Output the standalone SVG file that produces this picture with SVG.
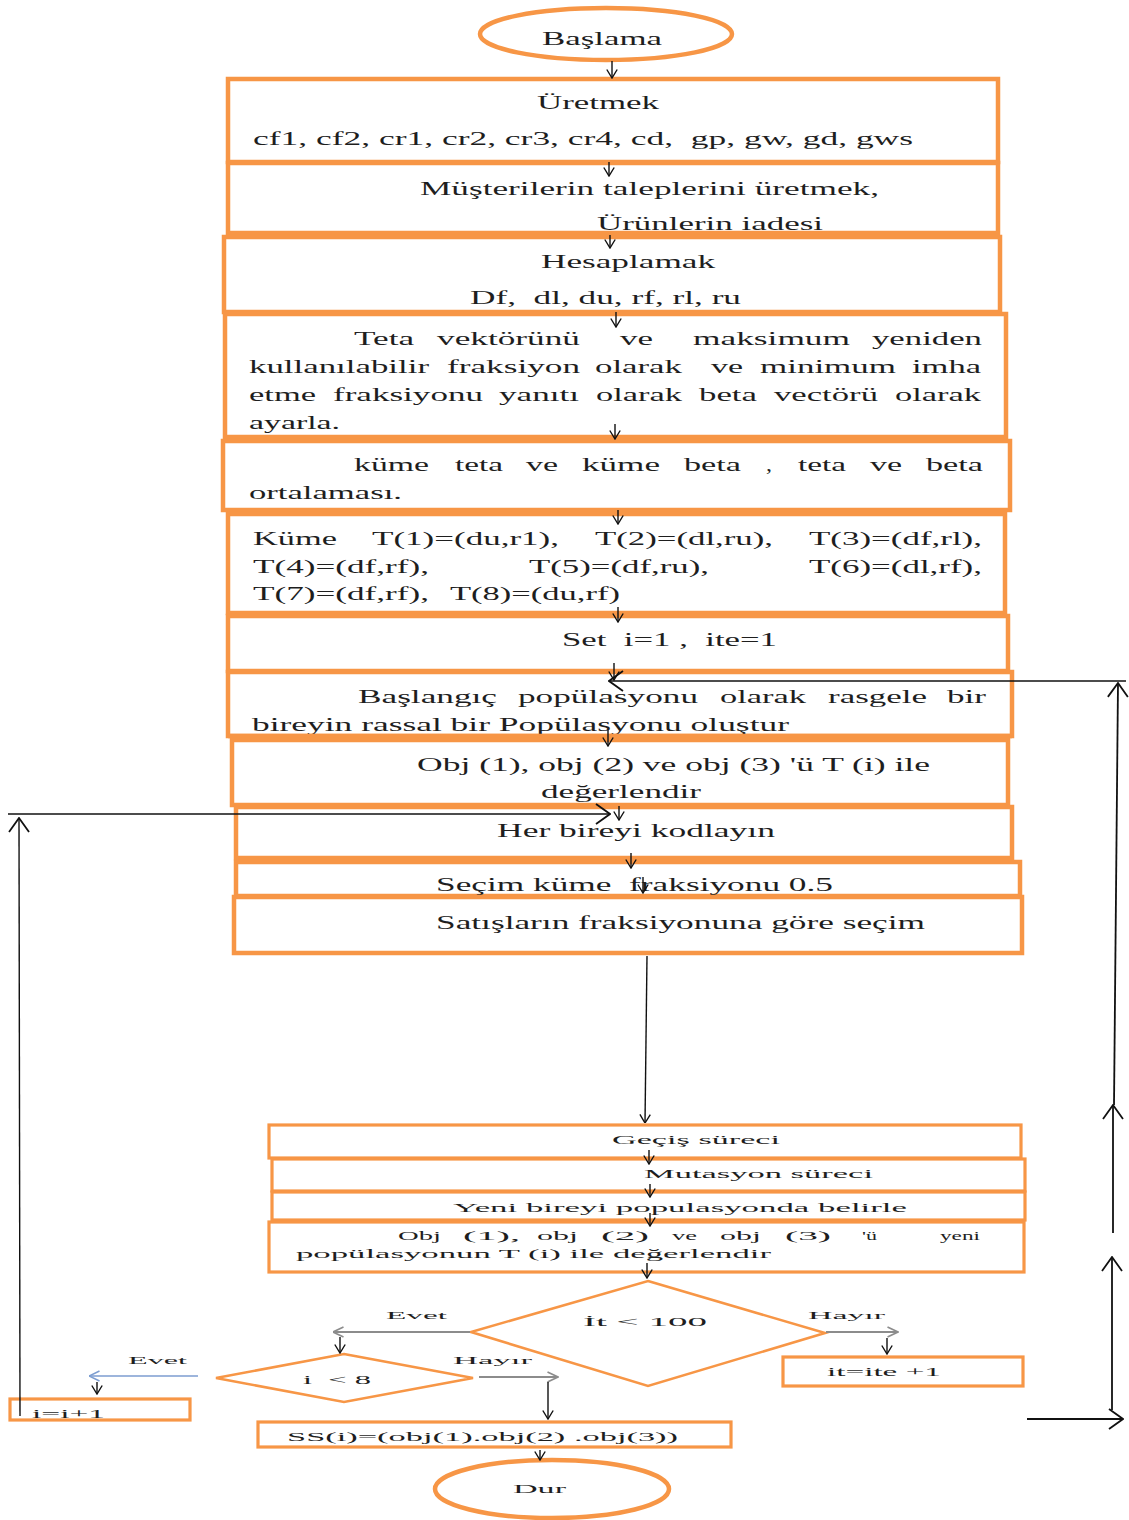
<svg xmlns="http://www.w3.org/2000/svg" width="1129" height="1520" viewBox="0 0 1129 1520">
<defs>
<style>
.box{fill:#fff;stroke:#F79646;stroke-width:4.5}
.sbox{fill:#fff;stroke:#F79646;stroke-width:3.2}
.shape{fill:#fff;stroke:#F79646;stroke-width:2.6}
.t{font-family:"Liberation Serif","Times New Roman",serif;font-size:18px;fill:#1e1e1e}
.s{font-family:"Liberation Serif","Times New Roman",serif;font-size:13px;fill:#1e1e1e}
.l{font-family:"Liberation Serif","Times New Roman",serif;font-size:11px;fill:#1e1e1e}
.c{fill:none;stroke:#111;stroke-width:1.4}
.cg{fill:none;stroke:#8c8c8c;stroke-width:1.8}
.cb{fill:none;stroke:#7c9dd1;stroke-width:1.6}
.cl{fill:none;stroke:#111;stroke-width:1.8}
</style>
<marker id="ah" viewBox="0 0 10 12" refX="9.5" refY="6" markerWidth="10" markerHeight="12" markerUnits="userSpaceOnUse" orient="auto"><path d="M1,0.8 L9.5,6 L1,11.2" fill="none" stroke="#111" stroke-width="1.4"/></marker>
<marker id="ahg" viewBox="0 0 12 12" refX="11.5" refY="6" markerWidth="12" markerHeight="12" markerUnits="userSpaceOnUse" orient="auto"><path d="M1,1 L11.5,6 L1,11" fill="none" stroke="#8c8c8c" stroke-width="1.6"/></marker>
<marker id="ahbl" viewBox="0 0 12 12" refX="11.5" refY="6" markerWidth="12" markerHeight="12" markerUnits="userSpaceOnUse" orient="auto"><path d="M1,1 L11.5,6 L1,11" fill="none" stroke="#7c9dd1" stroke-width="1.5"/></marker>
<marker id="ahb" viewBox="0 0 16 22" refX="15" refY="11" markerWidth="16" markerHeight="22" markerUnits="userSpaceOnUse" orient="auto"><path d="M1,1 L15,11 L1,21" fill="none" stroke="#111" stroke-width="1.8"/></marker>
</defs>
<rect width="1129" height="1520" fill="#fff"/>

<g id="n-baslama"><ellipse class="box" cx="606" cy="34" rx="126" ry="26" stroke-width="3.5"/><text class="t" x="542" y="45" textLength="120" lengthAdjust="spacingAndGlyphs">Başlama</text></g>

<g id="n-uretmek"><rect class="box" x="228" y="79" width="770" height="83"/>
<text class="t" x="537" y="109" textLength="122" lengthAdjust="spacingAndGlyphs">Üretmek</text>
<text class="t" x="253" y="145" textLength="660" lengthAdjust="spacingAndGlyphs" xml:space="preserve">cf1, cf2, cr1, cr2, cr3, cr4, cd,  gp, gw, gd, gws</text></g>

<g id="n-musteri"><rect class="box" x="228" y="163" width="770" height="70"/>
<text class="t" x="420" y="195" textLength="459" lengthAdjust="spacingAndGlyphs">Müşterilerin taleplerini üretmek,</text>
<text class="t" x="597" y="230" textLength="226" lengthAdjust="spacingAndGlyphs">Ürünlerin iadesi</text></g>

<g id="n-hesap"><rect class="box" x="224" y="237" width="776" height="75"/>
<text class="t" x="541" y="268" textLength="174" lengthAdjust="spacingAndGlyphs">Hesaplamak</text>
<text class="t" x="470" y="304" textLength="271" lengthAdjust="spacingAndGlyphs" xml:space="preserve">Df,  dl, du, rf, rl, ru</text></g>

<g id="n-teta"><rect class="box" x="225" y="314" width="781" height="123"/>
<text class="t" y="345"><tspan x="354" textLength="60" lengthAdjust="spacingAndGlyphs">Teta</tspan> <tspan x="437" textLength="143" lengthAdjust="spacingAndGlyphs">vektörünü</tspan> <tspan x="620" textLength="33" lengthAdjust="spacingAndGlyphs">ve</tspan> <tspan x="693" textLength="157" lengthAdjust="spacingAndGlyphs">maksimum</tspan> <tspan x="872" textLength="110" lengthAdjust="spacingAndGlyphs">yeniden</tspan></text>
<text class="t" y="373"><tspan x="249" textLength="180" lengthAdjust="spacingAndGlyphs">kullanılabilir</tspan> <tspan x="447" textLength="133" lengthAdjust="spacingAndGlyphs">fraksiyon</tspan> <tspan x="595" textLength="87" lengthAdjust="spacingAndGlyphs">olarak</tspan> <tspan x="711" textLength="32" lengthAdjust="spacingAndGlyphs">ve</tspan> <tspan x="760" textLength="136" lengthAdjust="spacingAndGlyphs">minimum</tspan> <tspan x="912" textLength="69" lengthAdjust="spacingAndGlyphs">imha</tspan></text>
<text class="t" y="401"><tspan x="249" textLength="67" lengthAdjust="spacingAndGlyphs">etme</tspan> <tspan x="333" textLength="150" lengthAdjust="spacingAndGlyphs">fraksiyonu</tspan> <tspan x="499" textLength="80" lengthAdjust="spacingAndGlyphs">yanıtı</tspan> <tspan x="596" textLength="86" lengthAdjust="spacingAndGlyphs">olarak</tspan> <tspan x="699" textLength="58" lengthAdjust="spacingAndGlyphs">beta</tspan> <tspan x="774" textLength="104" lengthAdjust="spacingAndGlyphs">vectörü</tspan> <tspan x="895" textLength="86" lengthAdjust="spacingAndGlyphs">olarak</tspan></text>
<text class="t" x="249" y="429" textLength="91" lengthAdjust="spacingAndGlyphs">ayarla.</text></g>

<g id="n-kume"><rect class="box" x="223" y="441" width="787" height="69"/>
<text class="t" y="471"><tspan x="354" textLength="75" lengthAdjust="spacingAndGlyphs">küme</tspan> <tspan x="455" textLength="48" lengthAdjust="spacingAndGlyphs">teta</tspan> <tspan x="526" textLength="32" lengthAdjust="spacingAndGlyphs">ve</tspan> <tspan x="582" textLength="78" lengthAdjust="spacingAndGlyphs">küme</tspan> <tspan x="684" textLength="57" lengthAdjust="spacingAndGlyphs">beta</tspan> <tspan x="766" textLength="6" lengthAdjust="spacingAndGlyphs">,</tspan> <tspan x="798" textLength="48" lengthAdjust="spacingAndGlyphs">teta</tspan> <tspan x="870" textLength="32" lengthAdjust="spacingAndGlyphs">ve</tspan> <tspan x="926" textLength="57" lengthAdjust="spacingAndGlyphs">beta</tspan></text>
<text class="t" x="249" y="499" textLength="153" lengthAdjust="spacingAndGlyphs">ortalaması.</text></g>

<g id="n-T"><rect class="box" x="228" y="514" width="777" height="99"/>
<text class="t" y="545"><tspan x="253" textLength="84" lengthAdjust="spacingAndGlyphs">Küme</tspan> <tspan x="372" textLength="187" lengthAdjust="spacingAndGlyphs">T(1)=(du,r1),</tspan> <tspan x="595" textLength="178" lengthAdjust="spacingAndGlyphs">T(2)=(dl,ru),</tspan> <tspan x="809" textLength="173" lengthAdjust="spacingAndGlyphs">T(3)=(df,rl),</tspan></text>
<text class="t" y="573"><tspan x="253" textLength="176" lengthAdjust="spacingAndGlyphs">T(4)=(df,rf),</tspan> <tspan x="529" textLength="180" lengthAdjust="spacingAndGlyphs">T(5)=(df,ru),</tspan> <tspan x="809" textLength="173" lengthAdjust="spacingAndGlyphs">T(6)=(dl,rf),</tspan></text>
<text class="t" y="600"><tspan x="253" textLength="176" lengthAdjust="spacingAndGlyphs">T(7)=(df,rf),</tspan> <tspan x="450" textLength="170" lengthAdjust="spacingAndGlyphs">T(8)=(du,rf)</tspan></text></g>

<g id="n-set"><rect class="box" x="228" y="616" width="780" height="55"/>
<text class="t" x="562" y="646" textLength="215" lengthAdjust="spacingAndGlyphs" xml:space="preserve">Set  i=1 ,  ite=1</text></g>

<g id="n-baslangic"><rect class="box" x="228" y="672" width="784" height="64"/>
<text class="t" y="703"><tspan x="358" textLength="139" lengthAdjust="spacingAndGlyphs">Başlangıç</tspan> <tspan x="518" textLength="180" lengthAdjust="spacingAndGlyphs">popülasyonu</tspan> <tspan x="720" textLength="86" lengthAdjust="spacingAndGlyphs">olarak</tspan> <tspan x="828" textLength="99" lengthAdjust="spacingAndGlyphs">rasgele</tspan> <tspan x="947" textLength="39" lengthAdjust="spacingAndGlyphs">bir</tspan></text>
<text class="t" x="252" y="731" textLength="537" lengthAdjust="spacingAndGlyphs">bireyin rassal bir Popülasyonu oluştur</text>
<line x1="228" y1="736" x2="1012" y2="736" stroke="#F79646" stroke-width="4.5"/></g>

<g id="n-obj"><rect class="box" x="232" y="740" width="776" height="65"/>
<text class="t" x="417" y="771" textLength="513" lengthAdjust="spacingAndGlyphs">Obj (1), obj (2) ve obj (3) 'ü T (i) ile</text>
<text class="t" x="541" y="798" textLength="160" lengthAdjust="spacingAndGlyphs">değerlendir</text></g>

<g id="n-kodla"><rect class="box" x="236" y="807" width="776" height="51"/>
<text class="t" x="497" y="837" textLength="278" lengthAdjust="spacingAndGlyphs">Her bireyi kodlayın</text></g>

<g id="n-secim"><rect class="box" x="236" y="862" width="784" height="34"/>
<text class="t" x="436" y="891" textLength="397" lengthAdjust="spacingAndGlyphs" xml:space="preserve">Seçim küme  fraksiyonu 0.5</text></g>

<g id="n-satis"><rect class="box" x="234" y="897" width="788" height="56"/>
<text class="t" x="436" y="929" textLength="489" lengthAdjust="spacingAndGlyphs">Satışların fraksiyonuna göre seçim</text></g>

<g id="n-gecis"><rect class="sbox" x="269" y="1125" width="752" height="33"/>
<text class="s" x="612" y="1144" textLength="168" lengthAdjust="spacingAndGlyphs">Geçiş süreci</text></g>

<g id="n-mutasyon"><rect class="sbox" x="272" y="1159" width="753" height="32"/>
<text class="s" x="644" y="1178" textLength="229" lengthAdjust="spacingAndGlyphs">Mutasyon süreci</text></g>

<g id="n-yeni"><rect class="sbox" x="272" y="1192" width="753" height="28"/>
<text class="s" x="453" y="1212" textLength="454" lengthAdjust="spacingAndGlyphs">Yeni bireyi populasyonda belirle</text></g>

<g id="n-obj2"><rect class="sbox" x="269" y="1222" width="755" height="50"/>
<text class="s" y="1240"><tspan x="398" textLength="43" lengthAdjust="spacingAndGlyphs">Obj</tspan> <tspan x="463" textLength="57" lengthAdjust="spacingAndGlyphs">(1),</tspan> <tspan x="537" textLength="41" lengthAdjust="spacingAndGlyphs">obj</tspan> <tspan x="601" textLength="48" lengthAdjust="spacingAndGlyphs">(2)</tspan> <tspan x="672" textLength="25" lengthAdjust="spacingAndGlyphs">ve</tspan> <tspan x="720" textLength="41" lengthAdjust="spacingAndGlyphs">obj</tspan> <tspan x="785" textLength="46" lengthAdjust="spacingAndGlyphs">(3)</tspan> <tspan x="862" textLength="15" lengthAdjust="spacingAndGlyphs">'ü</tspan> <tspan x="940" textLength="40" lengthAdjust="spacingAndGlyphs">yeni</tspan></text>
<text class="s" x="296" y="1258" textLength="475" lengthAdjust="spacingAndGlyphs">popülasyonun T (i) ile değerlendir</text></g>

<g id="n-it100"><polygon class="shape" points="648,1281 825,1333 648,1386 471,1332"/>
<text class="s" x="583" y="1326" textLength="124" lengthAdjust="spacingAndGlyphs">İt &lt; 100</text></g>

<g id="n-itite"><rect class="sbox" x="783" y="1357" width="240" height="29"/>
<text class="s" x="827" y="1376" textLength="114" lengthAdjust="spacingAndGlyphs">it=ite +1</text></g>

<g id="n-i8"><polygon class="shape" points="344,1354 473,1378 344,1402 216,1378"/>
<text class="s" x="303" y="1384" textLength="68" lengthAdjust="spacingAndGlyphs" xml:space="preserve">i  &lt; 8</text></g>

<g id="n-ii1"><rect class="sbox" x="10" y="1399" width="180" height="21"/>
<text class="s" x="32" y="1418" textLength="73" lengthAdjust="spacingAndGlyphs">i=i+1</text></g>

<g id="n-ss"><rect class="sbox" x="258" y="1422" width="473" height="25"/>
<text class="s" x="287" y="1441" textLength="391" lengthAdjust="spacingAndGlyphs">SS(i)=(obj(1).obj(2) .obj(3))</text></g>

<g id="n-dur"><ellipse class="box" cx="552" cy="1489" rx="117" ry="29" stroke-width="3.5"/>
<text class="s" x="513" y="1493" textLength="53" lengthAdjust="spacingAndGlyphs">Dur</text></g>

<g id="labels">
<text class="l" x="386" y="1319" textLength="61" lengthAdjust="spacingAndGlyphs">Evet</text>
<text class="l" x="808" y="1319" textLength="77" lengthAdjust="spacingAndGlyphs">Hayır</text>
<text class="l" x="128" y="1364" textLength="59" lengthAdjust="spacingAndGlyphs">Evet</text>
<text class="l" x="453" y="1364" textLength="79" lengthAdjust="spacingAndGlyphs">Hayır</text>
</g>

<g id="connectors">
<line class="c" x1="612" y1="61" x2="612" y2="78" marker-end="url(#ah)"/>
<line class="c" x1="609" y1="162" x2="609" y2="176" marker-end="url(#ah)"/>
<line class="c" x1="610" y1="235" x2="610" y2="248" marker-end="url(#ah)"/>
<line class="c" x1="616" y1="312" x2="616" y2="327" marker-end="url(#ah)"/>
<line class="c" x1="615" y1="424" x2="615" y2="439" marker-end="url(#ah)"/>
<line class="c" x1="618" y1="510" x2="618" y2="524" marker-end="url(#ah)"/>
<line class="c" x1="618" y1="607" x2="618" y2="622" marker-end="url(#ah)"/>
<line class="c" x1="614" y1="663" x2="614" y2="680" marker-end="url(#ah)"/>
<line class="c" x1="608" y1="730" x2="608" y2="746" marker-end="url(#ah)"/>
<line class="c" x1="619" y1="806" x2="619" y2="820" marker-end="url(#ah)"/>
<line class="c" x1="631" y1="853" x2="631" y2="868" marker-end="url(#ah)"/>
<line class="c" x1="643" y1="877" x2="643" y2="893" marker-end="url(#ah)"/>
<line class="c" x1="647" y1="956" x2="645" y2="1123" marker-end="url(#ah)"/>
<line class="c" x1="649" y1="1150" x2="649" y2="1164" marker-end="url(#ah)"/>
<line class="c" x1="650" y1="1184" x2="650" y2="1197" marker-end="url(#ah)"/>
<line class="c" x1="650" y1="1213" x2="650" y2="1226" marker-end="url(#ah)"/>
<line class="c" x1="647" y1="1263" x2="647" y2="1278" marker-end="url(#ah)"/>
<line class="cg" x1="470" y1="1332" x2="333" y2="1332" marker-end="url(#ahg)"/>
<line class="c" x1="340" y1="1337" x2="340" y2="1353" marker-end="url(#ah)"/>
<line class="cg" x1="826" y1="1332" x2="898" y2="1332" marker-end="url(#ahg)"/>
<line class="c" x1="887" y1="1338" x2="887" y2="1354" marker-end="url(#ah)"/>
<line class="cb" x1="198" y1="1376" x2="89" y2="1376" marker-end="url(#ahbl)"/>
<line class="c" x1="97" y1="1382" x2="97" y2="1394" marker-end="url(#ah)"/>
<line class="cg" x1="479" y1="1377" x2="558" y2="1377" marker-end="url(#ahg)"/>
<line class="c" x1="548" y1="1382" x2="548" y2="1419" marker-end="url(#ah)"/>
<line class="c" x1="540" y1="1450" x2="540" y2="1460" marker-end="url(#ah)"/>
<line class="c" x1="20" y1="1416" x2="19" y2="818" marker-end="url(#ahb)"/>
<line class="c" x1="8" y1="814" x2="610" y2="814" marker-end="url(#ahb)"/>
<line class="cl" x1="1113" y1="1233" x2="1113" y2="1105" marker-end="url(#ahb)"/>
<line class="cl" x1="1114" y1="1105" x2="1118" y2="683" marker-end="url(#ahb)"/>
<line class="c" x1="1126" y1="681" x2="609" y2="681" marker-end="url(#ahb)"/>
<line class="cl" x1="1112" y1="1410" x2="1112" y2="1257" marker-end="url(#ahb)"/>
<line class="cl" x1="1027" y1="1419" x2="1123" y2="1419" marker-end="url(#ahb)"/>
</g>
</svg>
